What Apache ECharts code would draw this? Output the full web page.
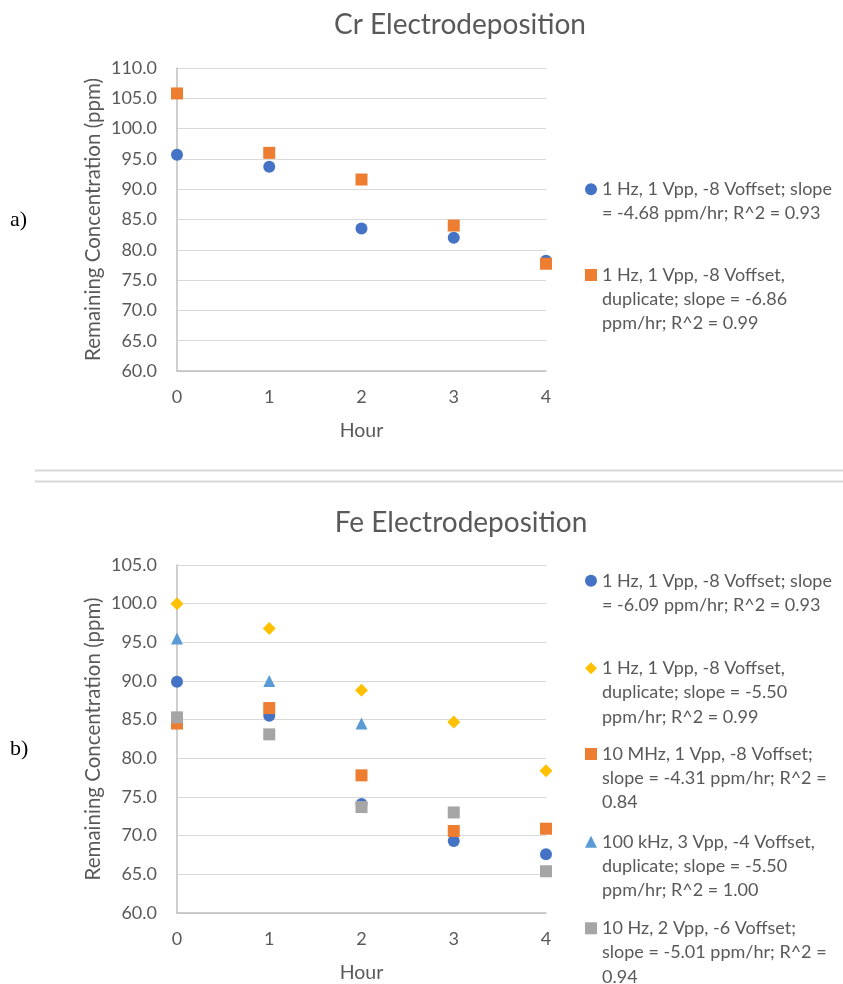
<!DOCTYPE html>
<html>
<head>
<meta charset="utf-8">
<script src="https://cdn.jsdelivr.net/npm/echarts@6/dist/echarts.min.js"></script>
<style>
  html, body { margin: 0; padding: 0; background: #ffffff; }
  #chart { width: 843px; height: 984px; }
</style>
</head>
<body>
<div id="chart"></div>
<script>
// ---------- data ----------
var hours = [0, 1, 2, 3, 4];

var crTitle = 'Cr Electrodeposition';
var feTitle = 'Fe Electrodeposition';
var xAxisName = 'Hour';
var yAxisName = 'Remaining Concentration (ppm)';

var crNames = [
  '1 Hz, 1 Vpp, -8 Voffset; slope = -4.68 ppm/hr; R^2 = 0.93',
  '1 Hz, 1 Vpp, -8 Voffset, duplicate; slope = -6.86 ppm/hr; R^2 = 0.99'
];
var crLegendLines = [
  ['1 Hz, 1 Vpp, -8 Voffset; slope', '= -4.68 ppm/hr; R^2 = 0.93'],
  ['1 Hz, 1 Vpp, -8 Voffset,', 'duplicate; slope = -6.86', 'ppm/hr; R^2 = 0.99']
];
var crValues1 = [95.7, 93.7, 83.5, 82.0, 78.2];
var crValues2 = [105.8, 96.0, 91.6, 84.0, 77.7];

var feNames = [
  '1 Hz, 1 Vpp, -8 Voffset; slope = -6.09 ppm/hr; R^2 = 0.93',
  '1 Hz, 1 Vpp, -8 Voffset, duplicate; slope = -5.50 ppm/hr; R^2 = 0.99',
  '10 MHz, 1 Vpp, -8 Voffset; slope = -4.31 ppm/hr; R^2 = 0.84',
  '100 kHz, 3 Vpp, -4 Voffset, duplicate; slope = -5.50 ppm/hr; R^2 = 1.00',
  '10 Hz, 2 Vpp, -6 Voffset; slope = -5.01 ppm/hr; R^2 = 0.94'
];
var feLegendLines = [
  ['1 Hz, 1 Vpp, -8 Voffset; slope', '= -6.09 ppm/hr; R^2 = 0.93'],
  ['1 Hz, 1 Vpp, -8 Voffset,', 'duplicate; slope = -5.50', 'ppm/hr; R^2 = 0.99'],
  ['10 MHz, 1 Vpp, -8 Voffset;', 'slope = -4.31 ppm/hr; R^2 =', '0.84'],
  ['100 kHz, 3 Vpp, -4 Voffset,', 'duplicate; slope = -5.50', 'ppm/hr; R^2 = 1.00'],
  ['10 Hz, 2 Vpp, -6 Voffset;', 'slope = -5.01 ppm/hr; R^2 =', '0.94']
];
var feValues1 = [89.9, 85.5, 74.1, 69.3, 67.6];
var feValues2 = [100.0, 96.8, 88.8, 84.7, 78.4];
var feValues3 = [84.5, 86.5, 77.8, 70.6, 70.9];
var feValues4 = [95.5, 90.0, 84.5];
var feValues5 = [85.3, 83.1, 73.7, 73.0, 65.4];

var crYTicks = { min: 60, max: 110, interval: 5 };
var feYTicks = { min: 60, max: 105, interval: 5 };
var xTicks = { min: 0, max: 4, interval: 1 };

var panelLabels = ['a)', 'b)'];

// ---------- styles ----------
var FONT = 'Lato';
var TXT = '#595959';
var GRID = '#D9D9D9';
var AXIS = '#BFBFBF';
var C_BLUE = '#4472C4', C_ORANGE = '#ED7D31', C_YELLOW = '#FFC000', C_LBLUE = '#5B9BD5', C_GREY = '#A5A5A5';
var LH = 24.3;

function pairs(vals) { return vals.map(function (v, i) { return [hours[i], v]; }); }

var nameToLines = {};
crNames.forEach(function (n, i) { nameToLines[n] = crLegendLines[i]; });
feNames.forEach(function (n, i) { nameToLines[n] = feLegendLines[i]; });

function legendFormatter(name) {
  var lines = nameToLines[name];
  var pad = [];
  for (var k = 0; k < lines.length - 1; k++) pad.push('');
  return pad.concat(lines).join('\n');
}

function legendItem(name, icon, firstLineY) {
  var n = nameToLines[name].length;
  return {
    data: [{ name: name, icon: icon }],
    orient: 'vertical',
    left: 585,
    top: firstLineY - (n - 0.5) * LH,
    padding: 0,
    itemWidth: 12,
    itemHeight: 12,
    selectedMode: false,
    formatter: legendFormatter,
    textStyle: { fontFamily: FONT, fontSize: 18, lineHeight: LH, color: TXT }
  };
}

function xAxisFor(gi) {
  return {
    gridIndex: gi, type: 'value', min: xTicks.min, max: xTicks.max, interval: xTicks.interval,
    name: xAxisName, nameLocation: 'middle', nameGap: 50,
    nameTextStyle: { fontFamily: FONT, fontSize: 19.5, color: TXT },
    axisLine: { show: true, lineStyle: { color: AXIS, width: 1.5 } },
    axisTick: { show: false },
    splitLine: { show: false },
    axisLabel: { fontFamily: FONT, fontSize: 18, color: TXT, margin: 17 }
  };
}
function yAxisFor(gi, t) {
  return {
    gridIndex: gi, type: 'value', min: t.min, max: t.max, interval: t.interval,
    name: yAxisName, nameLocation: 'middle', nameGap: 73,
    nameTextStyle: { fontFamily: FONT, fontSize: 20.5, color: TXT },
    axisLine: { show: true, lineStyle: { color: AXIS, width: 1.5 } },
    axisTick: { show: false },
    splitLine: { show: true, lineStyle: { color: GRID, width: 1.2 } },
    axisLabel: { fontFamily: FONT, fontSize: 18, color: TXT, margin: 20,
      formatter: function (v) { return v.toFixed(1); } }
  };
}
function scatter(name, xi, vals, symbol, size, color) {
  return {
    type: 'scatter', name: name, xAxisIndex: xi, yAxisIndex: xi,
    data: pairs(vals), symbol: symbol, symbolSize: size, clip: false,
    itemStyle: { color: color, opacity: 1 }
  };
}

var chart = echarts.init(document.getElementById('chart'), null, { renderer: 'canvas' });
chart.setOption({
  backgroundColor: '#ffffff',
  animation: false,
  title: [
    { text: crTitle, left: 455, top: 6, textAlign: 'center',
      textStyle: { fontFamily: FONT, fontSize: 28, fontWeight: 'normal', color: TXT } },
    { text: feTitle, left: 456, top: 504, textAlign: 'center',
      textStyle: { fontFamily: FONT, fontSize: 28, fontWeight: 'normal', color: TXT } }
  ],
  grid: [
    { left: 177, top: 68, width: 369, height: 303 },
    { left: 177, top: 565, width: 369, height: 351 }
  ],
  xAxis: [xAxisFor(0), xAxisFor(1)],
  yAxis: [yAxisFor(0, crYTicks), yAxisFor(1, feYTicks)],
  legend: [
    legendItem(crNames[0], 'circle', 189.3),
    legendItem(crNames[1], 'rect', 275),
    legendItem(feNames[0], 'circle', 580.7),
    legendItem(feNames[1], 'diamond', 668.3),
    legendItem(feNames[2], 'rect', 754),
    legendItem(feNames[3], 'triangle', 841.7),
    legendItem(feNames[4], 'rect', 928.3)
  ],
  series: [
    scatter(crNames[0], 0, crValues1, 'circle', 12, C_BLUE),
    scatter(crNames[1], 0, crValues2, 'rect', 12, C_ORANGE),
    scatter(feNames[0], 1, feValues1, 'circle', 12, C_BLUE),
    scatter(feNames[1], 1, feValues2, 'diamond', 13, C_YELLOW),
    scatter(feNames[2], 1, feValues3, 'rect', 12, C_ORANGE),
    scatter(feNames[3], 1, feValues4, 'triangle', 12, C_LBLUE),
    scatter(feNames[4], 1, feValues5, 'rect', 12, C_GREY)
  ],
  graphic: [
    { type: 'line', shape: { x1: 35, y1: 470.5, x2: 843, y2: 470.5 }, style: { stroke: GRID, lineWidth: 2 } },
    { type: 'line', shape: { x1: 35, y1: 481.5, x2: 843, y2: 481.5 }, style: { stroke: GRID, lineWidth: 2 } },
    { type: 'text', left: 10, top: 209, style: { text: panelLabels[0], fontFamily: 'Liberation Serif', fontSize: 22, fill: '#000000' } },
    { type: 'text', left: 10, top: 738, style: { text: panelLabels[1], fontFamily: 'Liberation Serif', fontSize: 22, fill: '#000000' } }
  ]
});
</script>
</body>
</html>
